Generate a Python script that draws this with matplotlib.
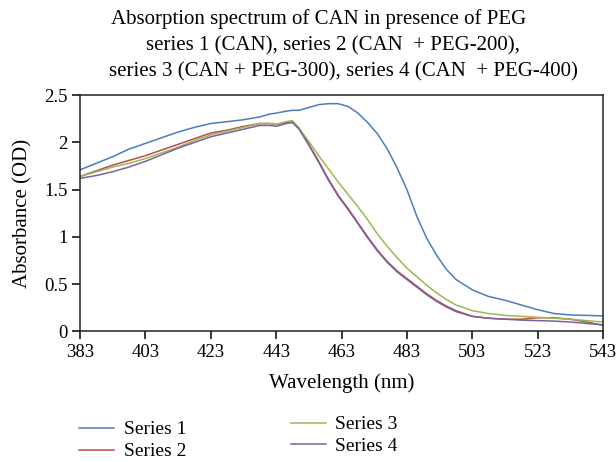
import matplotlib
matplotlib.use("Agg")
import matplotlib.pyplot as plt
from matplotlib.lines import Line2D

plt.rcParams['font.family'] = ['Liberation Serif', 'DejaVu Serif']

# Data
wavelength = [383, 388, 393, 398, 403, 408, 413, 418, 423, 428, 433, 438, 441, 443,
              446, 448, 450, 453, 456, 459, 462, 465, 468, 471, 474, 477, 480, 483,
              486, 489, 492, 495, 498, 503, 508, 513, 518, 523, 528, 533, 538, 543]

series1 = [1.71, 1.78, 1.85, 1.93, 1.99, 2.05, 2.11, 2.16, 2.20, 2.22, 2.24, 2.27, 2.30, 2.31,
           2.33, 2.34, 2.34, 2.37, 2.40, 2.41, 2.41, 2.38, 2.31, 2.21, 2.09, 1.93, 1.73, 1.50,
           1.22, 0.99, 0.81, 0.66, 0.55, 0.44, 0.37, 0.33, 0.28, 0.23, 0.19, 0.175, 0.17, 0.165]

series2 = [1.64, 1.70, 1.76, 1.81, 1.86, 1.92, 1.98, 2.04, 2.10, 2.13, 2.17, 2.20, 2.20, 2.19,
           2.21, 2.22, 2.15, 1.98, 1.80, 1.61, 1.44, 1.30, 1.15, 1.00, 0.86, 0.74, 0.64, 0.56,
           0.48, 0.40, 0.33, 0.27, 0.22, 0.16, 0.14, 0.13, 0.13, 0.145, 0.145, 0.13, 0.10, 0.065]

series3 = [1.64, 1.69, 1.74, 1.78, 1.83, 1.89, 1.95, 2.02, 2.08, 2.12, 2.16, 2.20, 2.20, 2.19,
           2.22, 2.23, 2.15, 2.01, 1.86, 1.72, 1.58, 1.45, 1.32, 1.18, 1.03, 0.90, 0.78, 0.67,
           0.58, 0.49, 0.41, 0.34, 0.28, 0.22, 0.19, 0.17, 0.16, 0.15, 0.14, 0.13, 0.115, 0.10]

series4 = [1.62, 1.65, 1.69, 1.74, 1.80, 1.87, 1.94, 2.00, 2.06, 2.10, 2.14, 2.18, 2.18, 2.17,
           2.20, 2.21, 2.14, 1.97, 1.79, 1.60, 1.43, 1.29, 1.14, 0.99, 0.85, 0.73, 0.63, 0.55,
           0.47, 0.39, 0.32, 0.26, 0.21, 0.16, 0.14, 0.13, 0.12, 0.115, 0.11, 0.10, 0.085, 0.07]

labels = ['Series 1', 'Series 2', 'Series 3', 'Series 4']
colors = ['#4A7EBB', '#BE4B48', '#98B954', '#7D60A0']
x_ticks = [383, 403, 423, 443, 463, 483, 503, 523, 543]
y_ticks = [0, 0.5, 1, 1.5, 2, 2.5]
y_ticklabels = ['0', '0.5', '1', '1.5', '2', '2.5']
title_lines = ['Absorption spectrum of CAN in presence of PEG',
               'series 1 (CAN), series 2 (CAN  + PEG-200),',
               'series 3 (CAN + PEG-300), series 4 (CAN  + PEG-400)']

fig = plt.figure(figsize=(6.16, 4.62), dpi=100)
ax = fig.add_axes([0.13, 0.2825, 0.849, 0.5115])

for ys, c, lab in zip([series1, series2, series3, series4], colors, labels):
    ax.plot(wavelength, ys, color=c, lw=1.1, label=lab)

ax.set_xlim(383, 543)
ax.set_ylim(0, 2.5)
ax.set_xticks(x_ticks)
ax.set_yticks(y_ticks)
ax.set_yticklabels(y_ticklabels)
ax.tick_params(labelsize=13.5, length=6, width=1.1, direction='out', pad=3)
for s in ax.spines.values():
    s.set_linewidth(1.1)
    s.set_color('#222222')

ax.set_xlabel('Wavelength (nm)', fontsize=15, labelpad=9)
ax.set_ylabel('Absorbance (OD)', fontsize=15, labelpad=8)

# Title, three lines with their own centres as in the reference
for txt, xc, yc in zip(title_lines, [0.518, 0.541, 0.558], [0.959, 0.901, 0.845]):
    fig.text(xc, yc, txt, ha='center', va='center', fontsize=15)

# Legend in two columns (second column sits slightly higher)
h = [Line2D([], [], color=c, lw=1.1) for c in colors]
kw = dict(frameon=False, fontsize=14, handlelength=1.8, labelspacing=0.22,
          borderpad=0, handletextpad=0.5, borderaxespad=0)
leg1 = fig.legend(h[:2], labels[:2], loc='upper left', bbox_to_anchor=(0.128, 0.089), **kw)
leg2 = fig.legend(h[2:], labels[2:], loc='upper left', bbox_to_anchor=(0.472, 0.100), **kw)

fig.savefig('out.png', dpi=100)
